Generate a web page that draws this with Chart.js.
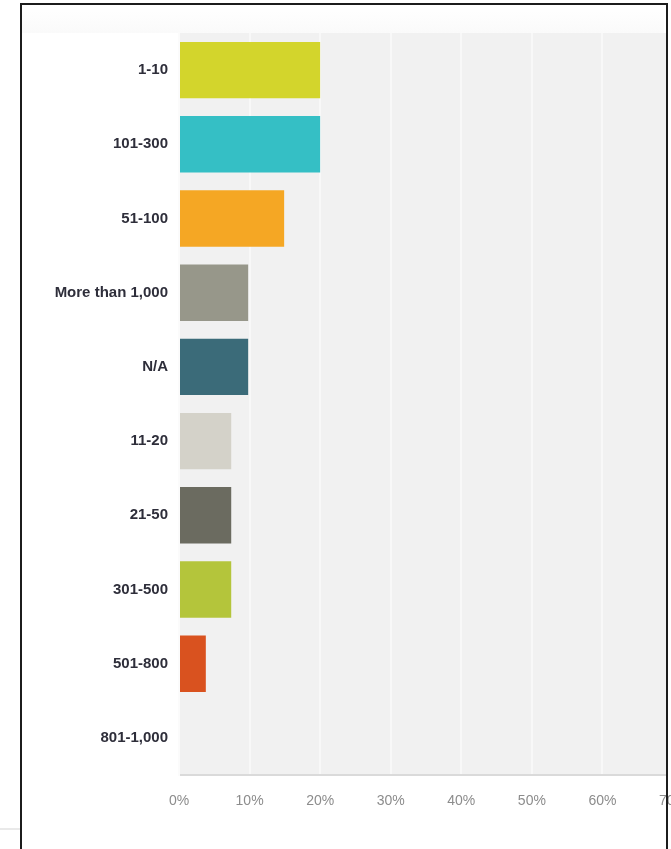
<!DOCTYPE html>
<html>
<head>
<meta charset="utf-8">
<script src="https://cdn.jsdelivr.net/npm/chart.js@4/dist/chart.umd.min.js"></script>
<style>
  html, body { margin: 0; padding: 0; background: #ffffff; width: 671px; height: 849px; overflow: hidden; }
  #clip { position: absolute; left: 0; top: 0; width: 671px; height: 849px; overflow: hidden; }
  #wrap { position: absolute; left: 0; top: 0; width: 705px; height: 849px; }
  #frame { position: absolute; left: 20px; top: 3px; width: 644px; height: 900px; border: 2px solid #1c1c1c; box-sizing: content-box; pointer-events: none; }
  #rightmask { position: absolute; left: 666px; top: 0; width: 5px; height: 780px; background: #ffffff; }
  #topshade { position: absolute; left: 22px; top: 5px; width: 642px; height: 28px; background: linear-gradient(#ffffff, #fafafa); }
  #gline { position: absolute; left: 0; top: 828px; width: 20px; height: 2px; background: #e9e9e9; }
</style>
</head>
<body>
<div id="topshade"></div>
<div id="clip"><div id="wrap"><canvas id="c" width="705" height="849"></canvas></div></div>
<div id="rightmask"></div>
<div id="frame"></div>
<div id="gline"></div>
<script>
const categories = ["1-10", "101-300", "51-100", "More than 1,000", "N/A", "11-20", "21-50", "301-500", "501-800", "801-1,000"];
const percentValues = [20, 20, 14.9, 9.8, 9.8, 7.4, 7.4, 7.4, 3.8, 0];
const barColors = ["#d3d52c", "#35bfc5", "#f5a724", "#97978a", "#3b6b79", "#d4d2c9", "#6b6b60", "#b4c53b", "#d9521f", "#cccccc"];
const xTickValues = [0, 10, 20, 30, 40, 50, 60, 70];

const plotBg = {
  id: 'plotBg',
  beforeDraw(chart) {
    const { ctx, chartArea: a } = chart;
    ctx.save();
    ctx.fillStyle = '#f1f1f1';
    ctx.fillRect(a.left, a.top, a.right - a.left, a.bottom - a.top);
    ctx.restore();
  }
};

new Chart(document.getElementById('c'), {
  type: 'bar',
  data: {
    labels: categories,
    datasets: [{
      data: percentValues,
      backgroundColor: barColors,
      borderWidth: 0,
      barPercentage: 0.76,
      categoryPercentage: 1.0
    }]
  },
  options: {
    indexAxis: 'y',
    responsive: false,
    animation: false,
    layout: { padding: { top: 33, left: 0, right: 0, bottom: 0 } },
    plugins: { legend: { display: false }, tooltip: { enabled: false } },
    scales: {
      x: {
        min: 0,
        max: 70,
        afterBuildTicks(axis) { axis.ticks = xTickValues.map(v => ({ value: v })); },
        afterFit(axis) { axis.height = 74; },
        grid: { color: '#f8f8f8', lineWidth: 2, drawTicks: false },
        border: { color: '#dadada', width: 2 },
        ticks: {
          padding: 18,
          color: '#8c8c8c',
          font: { family: 'Liberation Sans, Arial, sans-serif', size: 14 },
          callback: v => v + '%'
        }
      },
      y: {
        afterFit(axis) { axis.width = 179; },
        grid: { display: false, drawTicks: false },
        border: { color: '#fbfbfb', width: 2 },
        ticks: {
          padding: 11,
          color: '#2e2e3a',
          font: { family: 'Liberation Sans, Arial, sans-serif', size: 15, weight: 'bold' }
        }
      }
    }
  },
  plugins: [plotBg]
});
</script>
</body>
</html>
